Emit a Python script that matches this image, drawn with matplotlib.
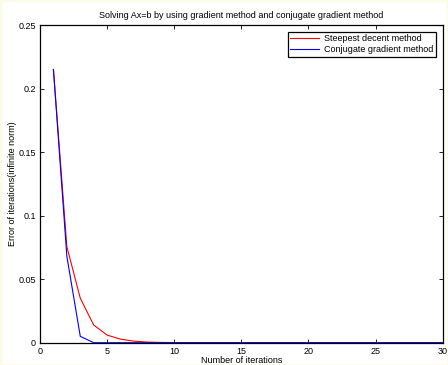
import matplotlib.pyplot as plt
from matplotlib.patches import Rectangle

plt.rcParams['font.family'] = ['Liberation Sans', 'DejaVu Sans']

# iteration numbers and error (infinite norm) for both methods
iterations = list(range(1, 31))
steepest_err = [0.215, 0.0756, 0.035, 0.0139, 0.006, 0.0028, 0.0012, 0.0005, 0.0002, 0.0001,
                0.00005, 0.00002, 0.00001, 0.000005, 0.000002, 0.000001, 0.0, 0.0, 0.0, 0.0,
                0.0, 0.0, 0.0, 0.0, 0.0, 0.0, 0.0, 0.0, 0.0, 0.0]
conjugate_err = [0.215, 0.068, 0.005, 0.0, 0.0, 0.0, 0.0, 0.0, 0.0, 0.0,
                 0.0, 0.0, 0.0, 0.0, 0.0, 0.0, 0.0, 0.0, 0.0, 0.0,
                 0.0, 0.0, 0.0, 0.0, 0.0, 0.0, 0.0, 0.0, 0.0, 0.0]
x_ticks = [0, 5, 10, 15, 20, 25, 30]
y_ticks = [0, 0.05, 0.1, 0.15, 0.2, 0.25]
y_labels = ['0', '0.05', '0.1', '0.15', '0.2', '0.25']

fig = plt.figure(figsize=(4.48, 3.65), dpi=100, facecolor='white')
ax = fig.add_axes([0.0893, 0.0611, 0.8989, 0.8704])

ax.plot(iterations, steepest_err, color='red', lw=0.8, label='Steepest decent method')
ax.plot(iterations, conjugate_err, color='blue', lw=0.8, label='Conjugate gradient method')

ax.set_xlim(0, 30)
ax.set_ylim(0, 0.25)
ax.set_xticks(x_ticks)
ax.set_yticks(y_ticks)
ax.set_yticklabels(y_labels)
ax.tick_params(direction='in', length=3, width=0.6, labelsize=6.5, top=True, right=True,
               pad=3, colors='black')
for s in ax.spines.values():
    s.set_linewidth(0.9)

ax.set_title('Solving Ax=b by using gradient method and conjugate gradient method',
             fontsize=6.5, pad=5)
ax.set_xlabel('Number of iterations', fontsize=6.5, labelpad=0)
ax.set_ylabel('Error of iterations(infinite norm)', fontsize=6.5, labelpad=1)

leg = ax.legend(loc='upper right', fontsize=6.5, fancybox=False, framealpha=1,
                edgecolor='black', handlelength=3.2, handletextpad=0.5,
                borderpad=0.3, labelspacing=0.2, borderaxespad=0.75)
leg.get_frame().set_linewidth(0.9)

# faint cream border around the figure
fig.patches.append(Rectangle((0, 0), 1, 1, transform=fig.transFigure, fill=False,
                             edgecolor='#fdfbe8', lw=2.5, zorder=-1))

fig.savefig('out.png', dpi=100, facecolor=fig.get_facecolor())
